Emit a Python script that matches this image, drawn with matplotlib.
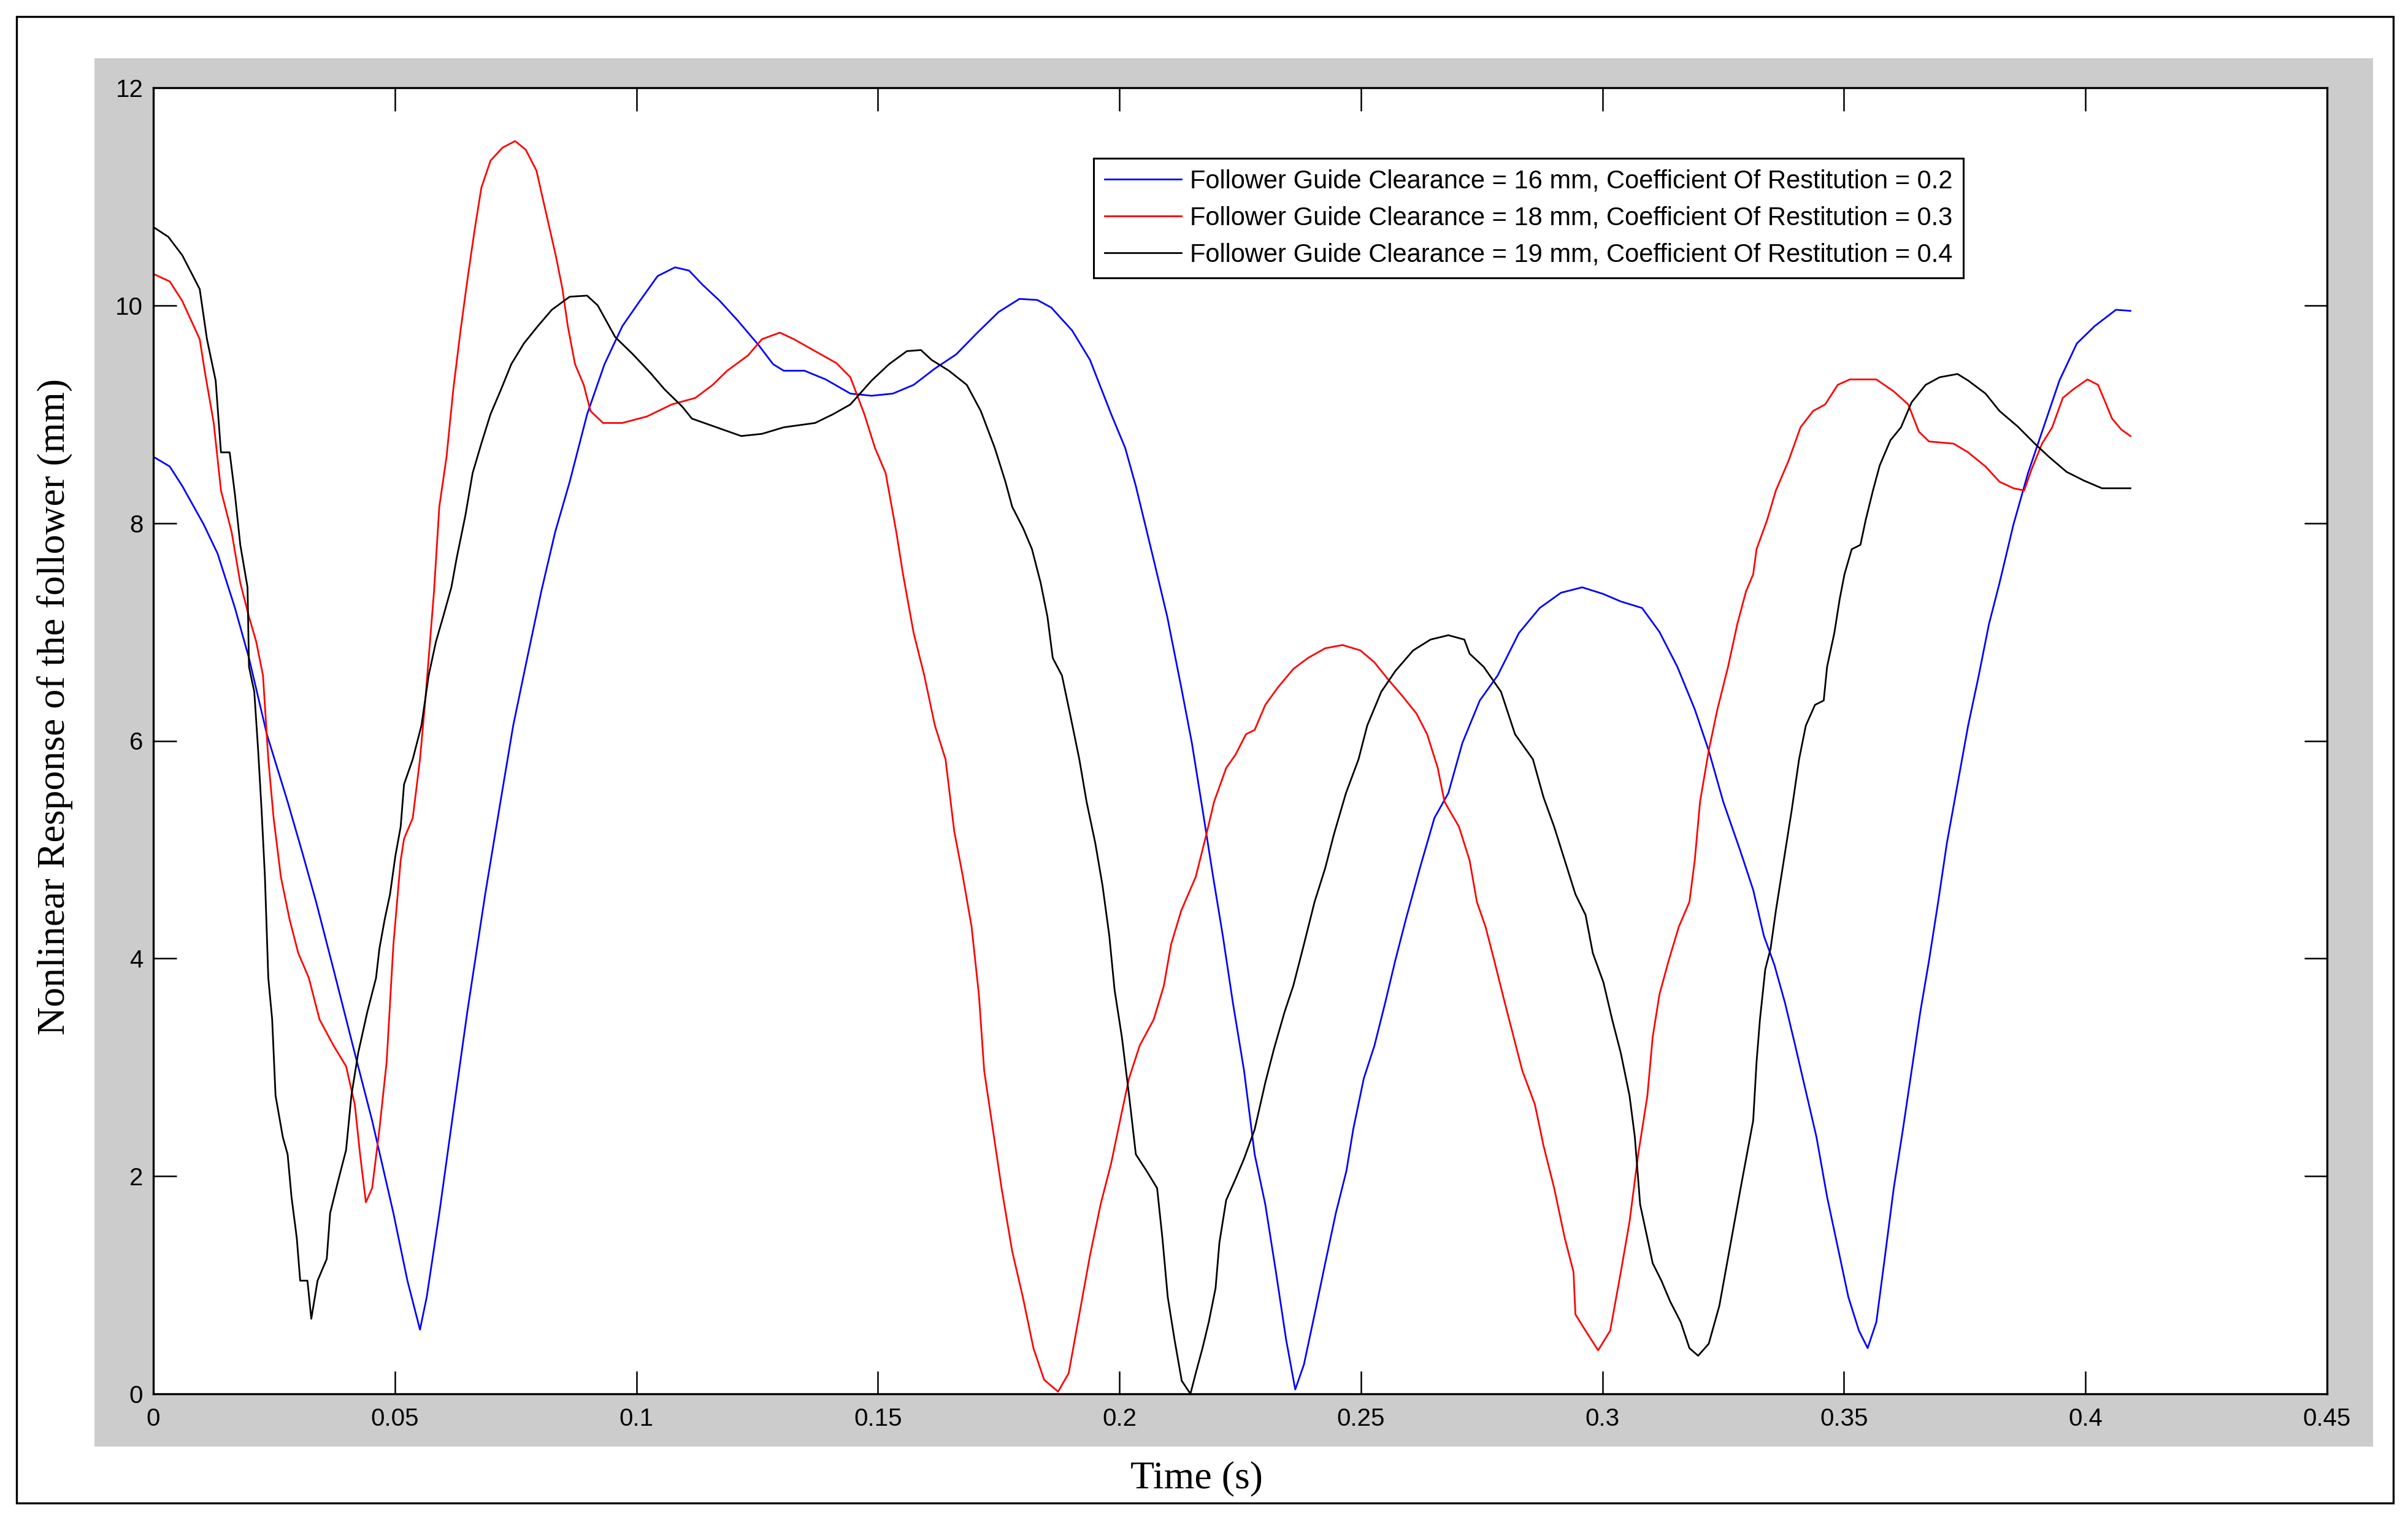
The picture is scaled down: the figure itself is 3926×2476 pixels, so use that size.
"""Nonlinear follower response vs time, MATLAB-style figure."""

import matplotlib
matplotlib.use("Agg")
import matplotlib.pyplot as plt
from matplotlib.patches import Rectangle

# --- data ------------------------------------------------------------------
t_blue = [0, 0.0034, 0.006, 0.0104, 0.0133, 0.0169, 0.0198, 0.0235, 0.0278, 0.0308,
          0.0337, 0.0373, 0.0417, 0.0453, 0.0497, 0.0526, 0.0552, 0.0566, 0.0592, 0.0621,
          0.065, 0.0687, 0.0716, 0.0745, 0.0774, 0.0803, 0.0832, 0.0862, 0.0898, 0.0934,
          0.0971, 0.1007, 0.1044, 0.108, 0.1109, 0.1137, 0.1173, 0.121, 0.1254, 0.1283,
          0.1305, 0.1348, 0.1392, 0.1443, 0.1487, 0.1531, 0.1574, 0.1618, 0.1662, 0.1706,
          0.175, 0.1793, 0.183, 0.1859, 0.1902, 0.1939, 0.1983, 0.2012, 0.2034, 0.207,
          0.2099, 0.2128, 0.215, 0.2172, 0.2194, 0.2214, 0.2235, 0.2258, 0.228, 0.2302,
          0.2324, 0.2345, 0.2364, 0.2382, 0.2404, 0.2426, 0.2448, 0.247, 0.2484, 0.2506,
          0.2528, 0.255, 0.2571, 0.2593, 0.2622, 0.2652, 0.2681, 0.271, 0.2746, 0.2783,
          0.2827, 0.287, 0.2914, 0.2958, 0.3001, 0.3038, 0.3082, 0.3118, 0.3155, 0.3191,
          0.322, 0.325, 0.3286, 0.3312, 0.3334, 0.3356, 0.3378, 0.3399, 0.3421, 0.3443,
          0.3465, 0.3487, 0.3509, 0.3531, 0.3549, 0.3567, 0.3585, 0.3603, 0.3622, 0.364,
          0.3658, 0.3676, 0.3695, 0.3713, 0.3735, 0.3757, 0.3779, 0.38, 0.3822, 0.3851,
          0.3881, 0.391, 0.3946, 0.3982, 0.4019, 0.4063, 0.4093]
y_blue = [8.61, 8.52, 8.34, 7.99, 7.72, 7.22, 6.76, 6.06, 5.44, 4.98,
          4.52, 3.90, 3.13, 2.51, 1.66, 1.04, 0.59, 0.89, 1.66, 2.59,
          3.51, 4.59, 5.37, 6.14, 6.76, 7.37, 7.92, 8.38, 9.00, 9.46,
          9.81, 10.04, 10.27, 10.35, 10.32, 10.19, 10.04, 9.86, 9.63, 9.46,
          9.40, 9.40, 9.32, 9.19, 9.17, 9.19, 9.27, 9.42, 9.55, 9.75,
          9.94, 10.06, 10.05, 9.98, 9.77, 9.50, 9.00, 8.69, 8.34, 7.68,
          7.14, 6.49, 5.98, 5.37, 4.75, 4.21, 3.59, 2.97, 2.20, 1.74,
          1.12, 0.50, 0.04, 0.27, 0.73, 1.20, 1.66, 2.05, 2.43, 2.90,
          3.20, 3.59, 3.98, 4.36, 4.83, 5.29, 5.52, 5.98, 6.37, 6.60,
          6.99, 7.22, 7.36, 7.41, 7.35, 7.28, 7.22, 7.00, 6.68, 6.29,
          5.91, 5.44, 4.98, 4.63, 4.21, 3.94, 3.59, 3.20, 2.78, 2.36,
          1.81, 1.35, 0.89, 0.58, 0.42, 0.66, 1.27, 1.89, 2.43, 2.97,
          3.51, 3.98, 4.52, 5.06, 5.60, 6.14, 6.60, 7.07, 7.45, 7.99,
          8.46, 8.84, 9.31, 9.65, 9.81, 9.96, 9.95]

t_red = [0, 0.0034, 0.006, 0.0096, 0.0107, 0.0125, 0.014, 0.0162, 0.018, 0.0198,
         0.0213, 0.0227, 0.0238, 0.0249, 0.0264, 0.0282, 0.03, 0.0322, 0.0344, 0.0373,
         0.0399, 0.0417, 0.0428, 0.044, 0.0453, 0.0468, 0.0483, 0.0497, 0.0512, 0.0519,
         0.0537, 0.0552, 0.0563, 0.057, 0.0581, 0.0592, 0.0607, 0.0621, 0.0636, 0.065,
         0.0665, 0.0679, 0.0698, 0.0723, 0.0749, 0.0771, 0.0793, 0.0811, 0.0833, 0.0847,
         0.0858, 0.0873, 0.0891, 0.0905, 0.0931, 0.0971, 0.1022, 0.1073, 0.1122, 0.1158,
         0.1188, 0.1231, 0.126, 0.1297, 0.1326, 0.137, 0.1414, 0.1443, 0.1472, 0.1494,
         0.1516, 0.1538, 0.1552, 0.1574, 0.1596, 0.1618, 0.164, 0.1658, 0.1676, 0.1694,
         0.1709, 0.172, 0.1738, 0.1756, 0.1778, 0.18, 0.1822, 0.1844, 0.1873, 0.1895,
         0.1917, 0.1939, 0.1961, 0.1983, 0.2005, 0.202, 0.2042, 0.2071, 0.2092, 0.2107,
         0.2128, 0.2158, 0.218, 0.2196, 0.2221, 0.224, 0.2262, 0.228, 0.2302, 0.2328,
         0.236, 0.239, 0.2426, 0.2462, 0.2499, 0.2528, 0.2557, 0.2586, 0.2615, 0.2637,
         0.2659, 0.2673, 0.2703, 0.2725, 0.274, 0.2758, 0.2776, 0.2798, 0.2816, 0.2834,
         0.286, 0.2878, 0.29, 0.2922, 0.294, 0.2944, 0.2965, 0.2991, 0.3016, 0.3038,
         0.3056, 0.3074, 0.3093, 0.3104, 0.3118, 0.3137, 0.3158, 0.318, 0.3191, 0.3202,
         0.322, 0.3238, 0.326, 0.3279, 0.3297, 0.3312, 0.3319, 0.3341, 0.3359, 0.3385,
         0.341, 0.3436, 0.3461, 0.3487, 0.3512, 0.3567, 0.3603, 0.3633, 0.3655, 0.3676,
         0.3727, 0.3757, 0.3793, 0.3822, 0.3851, 0.3873, 0.3888, 0.391, 0.3931, 0.3953,
         0.3975, 0.4004, 0.4026, 0.4041, 0.4055, 0.4074, 0.4093]
y_red = [10.29, 10.22, 10.04, 9.69, 9.38, 8.92, 8.30, 7.92, 7.45, 7.14,
         6.91, 6.60, 5.83, 5.29, 4.75, 4.36, 4.05, 3.82, 3.44, 3.20,
         3.01, 2.66, 2.20, 1.76, 1.89, 2.43, 3.05, 4.13, 4.90, 5.10,
         5.29, 5.83, 6.37, 6.76, 7.37, 8.15, 8.61, 9.23, 9.77, 10.23,
         10.69, 11.08, 11.33, 11.45, 11.51, 11.43, 11.24, 10.89, 10.46, 10.15,
         9.81, 9.46, 9.27, 9.03, 8.92, 8.92, 8.98, 9.09, 9.15, 9.27,
         9.40, 9.54, 9.69, 9.75, 9.69, 9.58, 9.47, 9.34, 9.00, 8.69,
         8.46, 7.92, 7.53, 6.99, 6.60, 6.14, 5.83, 5.17, 4.75, 4.29,
         3.67, 2.97, 2.43, 1.89, 1.31, 0.89, 0.42, 0.13, 0.02, 0.19,
         0.73, 1.27, 1.74, 2.12, 2.59, 2.90, 3.20, 3.44, 3.75, 4.13,
         4.44, 4.75, 5.14, 5.44, 5.75, 5.87, 6.06, 6.10, 6.33, 6.49,
         6.66, 6.76, 6.85, 6.88, 6.83, 6.72, 6.56, 6.41, 6.25, 6.06,
         5.75, 5.44, 5.21, 4.90, 4.52, 4.29, 3.98, 3.59, 3.28, 2.97,
         2.66, 2.28, 1.89, 1.43, 1.12, 0.73, 0.58, 0.40, 0.58, 1.12,
         1.58, 2.20, 2.74, 3.28, 3.67, 3.98, 4.29, 4.52, 4.90, 5.44,
         5.91, 6.29, 6.68, 7.07, 7.37, 7.53, 7.76, 8.03, 8.30, 8.57,
         8.88, 9.03, 9.09, 9.27, 9.32, 9.32, 9.21, 9.09, 8.84, 8.75,
         8.73, 8.65, 8.52, 8.38, 8.32, 8.30, 8.49, 8.73, 8.88, 9.15,
         9.23, 9.32, 9.27, 9.11, 8.96, 8.86, 8.80]

t_black = [0, 0.0031, 0.006, 0.0096, 0.0111, 0.0129, 0.014, 0.0158, 0.0169, 0.018,
           0.0195, 0.0198, 0.0209, 0.0217, 0.0224, 0.0231, 0.0238, 0.0246, 0.0253, 0.0268,
           0.0278, 0.0286, 0.0297, 0.0304, 0.0319, 0.0327, 0.034, 0.0359, 0.0366, 0.0381,
           0.0399, 0.041, 0.0424, 0.0443, 0.0461, 0.0468, 0.0479, 0.049, 0.0501, 0.0512,
           0.0519, 0.0537, 0.0555, 0.057, 0.0585, 0.06, 0.0617, 0.0628, 0.0646, 0.0661,
           0.0679, 0.0698, 0.072, 0.0741, 0.0767, 0.0796, 0.0825, 0.0862, 0.0898, 0.092,
           0.0956, 0.0993, 0.1029, 0.1058, 0.1095, 0.1115, 0.1166, 0.1217, 0.126, 0.1305,
           0.137, 0.1407, 0.1443, 0.1487, 0.1523, 0.156, 0.1589, 0.1611, 0.1647, 0.1684,
           0.1713, 0.1742, 0.1764, 0.1778, 0.1801, 0.1819, 0.1837, 0.1851, 0.1862, 0.1881,
           0.1899, 0.1917, 0.1932, 0.195, 0.1965, 0.1979, 0.199, 0.2005, 0.202, 0.2034,
           0.2056, 0.2078, 0.2089, 0.21, 0.2114, 0.2129, 0.2147, 0.2158, 0.2172, 0.2185,
           0.2199, 0.2207, 0.2221, 0.224, 0.2258, 0.228, 0.2302, 0.232, 0.2342, 0.236,
           0.2382, 0.2404, 0.2426, 0.2444, 0.2469, 0.2495, 0.2513, 0.2542, 0.2571, 0.2608,
           0.2644, 0.2681, 0.2714, 0.2725, 0.2754, 0.279, 0.2819, 0.2856, 0.2878, 0.29,
           0.2922, 0.2944, 0.2965, 0.298, 0.3002, 0.302, 0.3038, 0.3056, 0.3067, 0.3078,
           0.3093, 0.3104, 0.3122, 0.314, 0.3162, 0.318, 0.3198, 0.322, 0.3242, 0.3264,
           0.3286, 0.3312, 0.3319, 0.3326, 0.3337, 0.3348, 0.3359, 0.337, 0.3381, 0.3392,
           0.3407, 0.3421, 0.344, 0.3458, 0.3465, 0.348, 0.3491, 0.3501, 0.3516, 0.3534,
           0.3545, 0.356, 0.3574, 0.3596, 0.3618, 0.364, 0.3669, 0.3698, 0.3735, 0.3757,
           0.3793, 0.3822, 0.3859, 0.3895, 0.3924, 0.3961, 0.3997, 0.4034, 0.4093]
y_black = [10.72, 10.63, 10.46, 10.15, 9.69, 9.31, 8.65, 8.65, 8.26, 7.80,
           7.41, 6.68, 6.45, 5.91, 5.37, 4.75, 3.82, 3.44, 2.74, 2.36,
           2.20, 1.81, 1.43, 1.04, 1.04, 0.69, 1.04, 1.24, 1.66, 1.93,
           2.24, 2.74, 3.13, 3.51, 3.82, 4.09, 4.36, 4.59, 4.94, 5.21,
           5.60, 5.83, 6.14, 6.60, 6.91, 7.14, 7.41, 7.68, 8.07, 8.46,
           8.73, 9.00, 9.23, 9.46, 9.65, 9.81, 9.96, 10.08, 10.09, 10.00,
           9.71, 9.55, 9.38, 9.23, 9.07, 8.96, 8.88, 8.80, 8.82, 8.88,
           8.92, 9.00, 9.09, 9.31, 9.46, 9.58, 9.59, 9.50, 9.40, 9.27,
           9.03, 8.69, 8.38, 8.15, 7.95, 7.76, 7.45, 7.14, 6.76, 6.60,
           6.22, 5.83, 5.44, 5.06, 4.67, 4.21, 3.71, 3.28, 2.74, 2.20,
           2.05, 1.89, 1.43, 0.89, 0.50, 0.12, 0.00, 0.19, 0.42, 0.66,
           0.97, 1.39, 1.78, 1.97, 2.16, 2.43, 2.86, 3.17, 3.51, 3.75,
           4.13, 4.52, 4.83, 5.14, 5.52, 5.83, 6.14, 6.45, 6.64, 6.83,
           6.93, 6.97, 6.93, 6.80, 6.68, 6.45, 6.06, 5.83, 5.48, 5.21,
           4.90, 4.59, 4.40, 4.05, 3.78, 3.44, 3.13, 2.74, 2.36, 1.74,
           1.43, 1.20, 1.04, 0.85, 0.66, 0.42, 0.35, 0.46, 0.81, 1.35,
           1.89, 2.51, 3.05, 3.44, 3.90, 4.09, 4.44, 4.75, 5.06, 5.37,
           5.83, 6.14, 6.33, 6.37, 6.68, 6.99, 7.30, 7.53, 7.76, 7.80,
           8.03, 8.30, 8.53, 8.76, 8.88, 9.11, 9.27, 9.34, 9.37, 9.31,
           9.19, 9.03, 8.89, 8.73, 8.61, 8.47, 8.39, 8.32, 8.32]

legend_labels = [
    "Follower Guide Clearance = 16 mm, Coefficient Of Restitution = 0.2",
    "Follower Guide Clearance = 18 mm, Coefficient Of Restitution = 0.3",
    "Follower Guide Clearance = 19 mm, Coefficient Of Restitution = 0.4",
]
x_ticks = [0, 0.05, 0.1, 0.15, 0.2, 0.25, 0.3, 0.35, 0.4, 0.45]
x_tick_labels = ["0", "0.05", "0.1", "0.15", "0.2", "0.25", "0.3", "0.35", "0.4", "0.45"]
y_ticks = [0, 2, 4, 6, 8, 10, 12]

# --- figure ----------------------------------------------------------------
W, H, DPI = 3926, 2476, 100
fig = plt.figure(figsize=(W / DPI, H / DPI), dpi=DPI, facecolor="white")

# outer black frame and the grey MATLAB panel, kept behind the axes
fig.patches.append(Rectangle((27 / W, 1 - 2450 / H), 3875 / W, 2423 / H,
                             transform=fig.transFigure, facecolor="white",
                             edgecolor="black", linewidth=2.4, zorder=-2))
fig.patches.append(Rectangle((154 / W, 1 - 2358 / H), 3715 / W, 2263 / H,
                             transform=fig.transFigure, facecolor="#cccccc",
                             edgecolor="none", zorder=-1))

ax = fig.add_axes([250 / W, 1 - 2272 / H, 3544 / W, 2129 / H])
ax.set_facecolor("white")

lw = 2.0
ax.plot(t_blue, y_blue, color="#0000ff", linewidth=lw, label=legend_labels[0])
ax.plot(t_red, y_red, color="#ff0000", linewidth=lw, label=legend_labels[1])
ax.plot(t_black, y_black, color="black", linewidth=lw, label=legend_labels[2])

ax.set_xlim(0, 0.45)
ax.set_ylim(0, 12)
ax.set_xticks(x_ticks)
ax.set_xticklabels(x_tick_labels)
ax.set_yticks(y_ticks)

for lab in ax.get_xticklabels() + ax.get_yticklabels():
    lab.set_fontfamily("Liberation Sans")
    lab.set_fontsize(29)

ax.tick_params(direction="in", length=27, width=1.8, top=True, right=True,
               colors="black")
ax.tick_params(axis="x", pad=16)
ax.tick_params(axis="y", pad=12)
for sp in ax.spines.values():
    sp.set_linewidth(2.4)
    sp.set_color("black")

label_font = {"family": "Liberation Serif", "size": 46}
ax.set_xlabel("Time (s)", fontdict=label_font, va="center")
ax.xaxis.set_label_coords(0.48, -0.065)
ax.set_ylabel("Nonlinear Response of the follower (mm)", fontdict=label_font,
              va="center")
ax.yaxis.set_label_coords(-0.0454, 0.526)

leg = ax.legend(loc="upper left", bbox_to_anchor=(0.4326, 0.946),
                borderaxespad=0, fancybox=False, framealpha=1,
                prop={"family": "Liberation Sans", "size": 30},
                handlelength=3.0, handletextpad=0.35, borderpad=0.42,
                labelspacing=0.48)
leg.get_frame().set_edgecolor("black")
leg.get_frame().set_linewidth(2.2)

fig.savefig("out.png", dpi=DPI, facecolor="white")
